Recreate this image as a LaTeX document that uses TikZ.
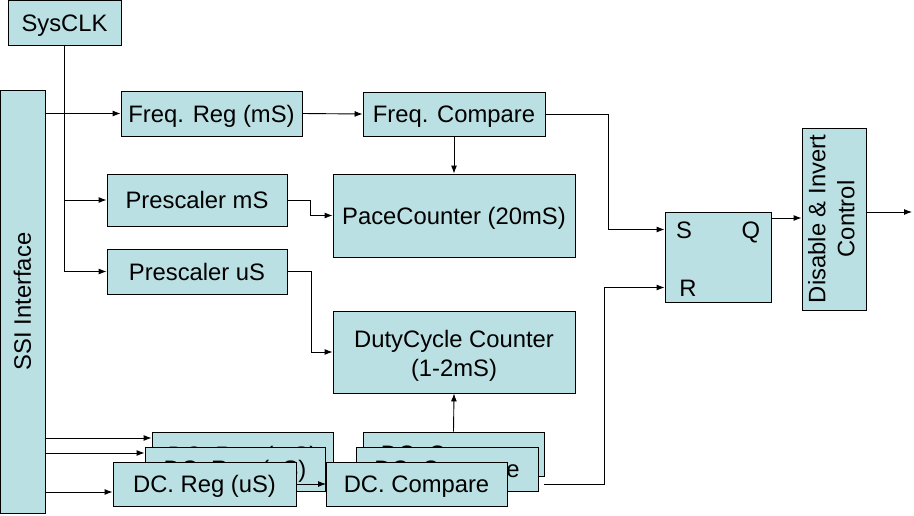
\documentclass[tikz,border=0pt]{standalone}
\usepackage{fontspec}
\setmainfont{Liberation Sans}
\usetikzlibrary{arrows.meta,calc}
\definecolor{boxfill}{RGB}{187,224,227}
\begin{document}
\begin{tikzpicture}[x=1pt,y=-1pt]
\tikzset{
 blk/.style={draw=black, fill=boxfill, line width=0.9pt, inner sep=0pt, font=\fontsize{23.8}{29}\selectfont, align=center},
 blk1/.style={blk, text height=17pt, text depth=0pt},
 arr/.style={-{Latex[length=8pt,width=6pt]}, line width=0.9pt},
 ln/.style={line width=0.9pt},
 lbl/.style={font=\fontsize{23.8}{29}\selectfont, inner sep=0pt, text height=17pt, text depth=0pt}
}
\useasboundingbox (0,0) rectangle (914,515);

% main blocks
\node[blk1, minimum width=113pt, minimum height=45pt] (sysclk) at (64.5,22.5) {SysCLK};
\node[blk, minimum width=45pt, minimum height=423pt] (ssi) at (22.5,301.5) {\rotatebox{90}{SSI Interface}};
\node[blk1, minimum width=181pt, minimum height=45pt] (freqreg) at (211.5,113.5) {Freq. Reg (mS)};
\node[blk1, minimum width=182pt, minimum height=44pt] (freqcmp) at (454,114) {Freq. Compare};
\node[blk1, minimum width=180pt, minimum height=52pt] (prms) at (197,200) {Prescaler mS};
\node[blk1, minimum width=180pt, minimum height=45pt] (prus) at (197,271.5) {Prescaler uS};
\node[blk1, minimum width=242pt, minimum height=83pt] (pace) at (454,215.5) {PaceCounter (20mS)};
\node[blk, minimum width=242pt, minimum height=82pt] (duty) at (454,352) {\rule{0pt}{24pt}DutyCycle Counter\\(1-2mS)};
\node[blk, minimum width=106pt, minimum height=90pt] (sr) at (718,257) {};
\node[lbl] (S) at (684,229.5) {S};
\node[lbl] (Q) at (751,229.5) {Q};
\node[lbl] (R) at (688,287.5) {R};
\node[blk, minimum width=64pt, minimum height=182pt] (dis) at (834,219) {\rotatebox{90}{\begin{tabular}{@{}c@{}}Disable \& Invert\\Control\end{tabular}}};

% stacked DC blocks (back layers)
\node[blk1, minimum width=181pt, minimum height=45pt] (regA) at (242.5,454.5) {DC. Reg (mS)};
\node[blk1, minimum width=180pt, minimum height=44pt] (regB) at (235,469) {DC. Reg (uS)};
\node[blk1, minimum width=181pt, minimum height=44pt] (cmpA) at (453.5,454) {DC. Compare};
\node[blk1, minimum width=182pt, minimum height=44pt] (cmpB) at (447,469) {DC. Compare};

% coordinates for connector ends
\coordinate (a1) at (0,438);
\coordinate (a2) at (0,453);
\coordinate (a3) at (0,492);
\coordinate (dcout) at (544,484);
\coordinate (qy) at (0,218);
\coordinate (out) at (912,212);
\coordinate (rc) at (296,484);
\coordinate (cc) at (326,484);

% front DC blocks with arrow between
\draw[arr] (rc) -- (cc);
\node[blk1, minimum width=183pt, minimum height=44pt] (regC) at (204.5,484) {DC. Reg (uS)};
\node[blk1, minimum width=181pt, minimum height=44pt] (cmpC) at (416.5,484) {DC. Compare};

% connectors
\draw[ln] (sysclk.south) -- (sysclk.south |- prus.west);
\draw[arr] (sysclk.south |- prms.west) -- (prms.west);
\draw[arr] (sysclk.south |- prus.west) -- (prus.west);
\draw[arr] (ssi.east |- freqreg.west) -- (freqreg.west);
\draw[arr] (freqreg.east) -- (freqcmp.west);
\draw[arr] (freqcmp.south) -- (pace.north);
\draw[arr] (prms.east) -- ++(23,0) |- (pace.west);
\draw[arr] (prus.east) -- ++(24,0) |- (duty.west);
\draw[arr] (cmpA.north) -- (duty.south);
\draw[arr] (freqcmp.east) -- ++(63,0) |- (S -| sr.west);
\draw[arr] (dcout) -- ++(60,0) |- (R -| sr.west);
\draw[arr] (qy -| sr.east) -- (qy -| dis.west);
\draw[arr] (out -| dis.east) -- (out);
\draw[arr] (ssi.east |- a1) -- (regA.west |- a1);
\draw[arr] (ssi.east |- a2) -- (regB.west |- a2);
\draw[arr] (ssi.east |- a3) -- (regC.west |- a3);
\end{tikzpicture}
\end{document}
